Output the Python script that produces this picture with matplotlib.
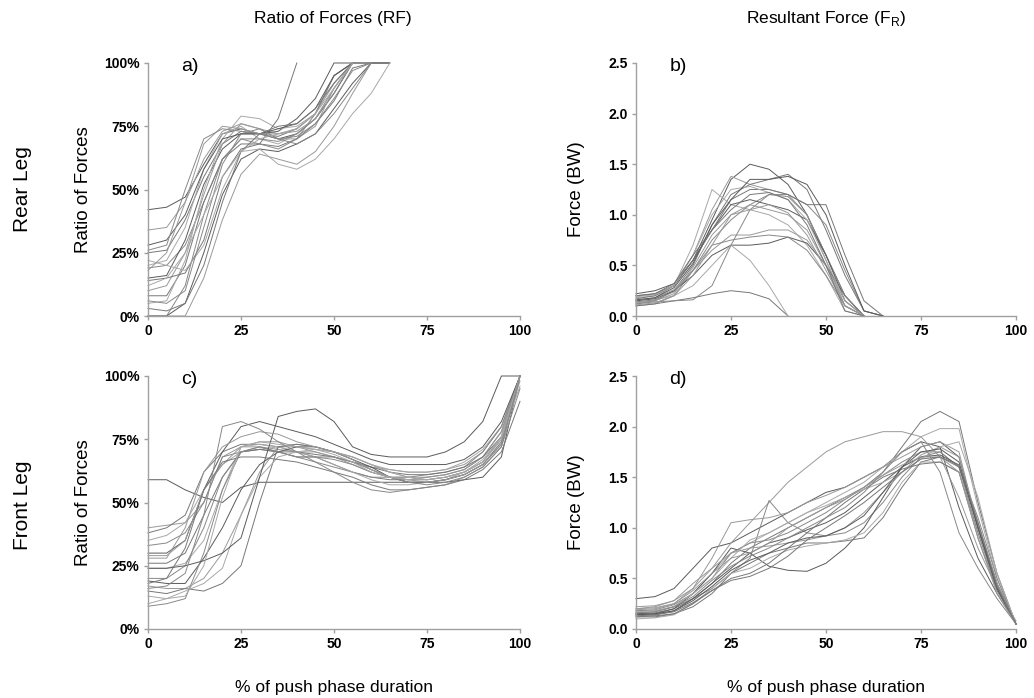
import matplotlib
matplotlib.use("Agg")
import matplotlib.pyplot as plt
import numpy as np

plt.rcParams['font.family'] = ['Liberation Sans', 'DejaVu Sans']

# % of push phase duration, sampled every 5 %
x_rear = list(range(0, 70, 5))
x_front = list(range(0, 105, 5))

# a) rear leg, ratio of forces (%)
rf_rear = [
    [42, 43, 47, 60, 72, 74, 72, 70, 72, 78, 88, 100, 100],
    [34, 35, 45, 62, 73, 76, 74, 72, 74, 80, 92, 100],
    [25, 26, 38, 55, 68, 73, 72, 71, 74, 80, 95, 100, 100],
    [20, 22, 35, 58, 72, 75, 70, 68, 72, 78, 90, 100],
    [19, 20, 28, 45, 62, 70, 70, 69, 72, 78, 88, 100, 100, 100],
    [15, 16, 30, 52, 66, 72, 72, 73, 78, 86, 100, 100],
    [10, 12, 25, 48, 68, 76, 74, 70, 70, 75, 90, 100],
    [8, 8, 20, 45, 62, 68, 68, 67, 70, 76, 85, 98, 100, 100],
    [5, 6, 22, 50, 70, 79, 78, 74, 75, 80, 92, 100],
    [0, 0, 12, 40, 62, 70, 68, 66, 70, 80, 95, 100],
    [0, 0, 5, 25, 48, 62, 66, 65, 68, 72, 82, 92, 100, 100],
    [0, 0, 0, 15, 38, 56, 64, 62, 60, 65, 75, 88, 100],
    [14, 15, 17, 30, 55, 66, 68, 78, 100],
    [22, 20, 18, 28, 50, 65, 66, 60, 58, 62, 70, 80, 88, 100],
    [6, 5, 10, 35, 60, 72, 74, 70, 68, 72, 80, 90, 100],
    [28, 30, 40, 58, 70, 72, 72, 74, 76, 82, 95, 100],
    [18, 25, 45, 68, 75, 74, 72, 72, 73, 78, 90, 100],
    [3, 2, 5, 20, 45, 65, 72, 75, 76, 82, 92, 100],
    [12, 15, 25, 40, 55, 65, 70, 72, 74, 80, 90, 100],
    [26, 28, 50, 70, 74, 73, 72, 70, 71, 76, 86, 97, 100],
]

# b) rear leg, resultant force (BW)
fr_rear = [
    [0.20, 0.22, 0.30, 0.55, 0.95, 1.35, 1.50, 1.45, 1.30, 1.00, 0.60, 0.20, 0.00],
    [0.15, 0.18, 0.30, 0.60, 1.05, 1.38, 1.30, 1.25, 1.20, 1.00, 0.55, 0.10, 0.00],
    [0.12, 0.15, 0.25, 0.50, 0.90, 1.20, 1.30, 1.35, 1.40, 1.25, 0.85, 0.40, 0.05, 0.00],
    [0.18, 0.20, 0.30, 0.70, 1.25, 1.10, 1.05, 1.00, 0.90, 0.70, 0.40, 0.05, 0.00],
    [0.10, 0.12, 0.20, 0.45, 0.75, 0.95, 1.10, 1.20, 1.20, 1.10, 0.90, 0.45, 0.05, 0.00],
    [0.15, 0.17, 0.25, 0.40, 0.60, 0.70, 0.70, 0.72, 0.78, 0.72, 0.50, 0.20, 0.00],
    [0.16, 0.18, 0.26, 0.45, 0.65, 0.80, 0.80, 0.85, 0.85, 0.75, 0.50, 0.15, 0.00],
    [0.10, 0.12, 0.15, 0.18, 0.22, 0.25, 0.23, 0.17, 0.00],
    [0.14, 0.16, 0.20, 0.30, 0.50, 0.70, 0.55, 0.30, 0.00],
    [0.12, 0.14, 0.15, 0.16, 0.30, 0.70, 1.05, 1.20, 1.18, 1.00, 0.60, 0.20, 0.00],
    [0.22, 0.25, 0.32, 0.55, 0.85, 1.10, 1.15, 1.10, 1.05, 0.95, 0.60, 0.15, 0.00],
    [0.13, 0.15, 0.22, 0.48, 0.80, 1.00, 1.05, 1.10, 1.02, 0.80, 0.45, 0.10, 0.00],
    [0.17, 0.20, 0.30, 0.55, 0.85, 1.15, 1.25, 1.25, 1.20, 1.10, 1.10, 0.60, 0.15, 0.00],
    [0.19, 0.21, 0.30, 0.60, 1.00, 1.25, 1.28, 1.22, 1.15, 0.95, 0.55, 0.15, 0.00],
    [0.14, 0.16, 0.24, 0.45, 0.70, 0.75, 0.78, 0.80, 0.78, 0.65, 0.40, 0.10, 0.00],
    [0.16, 0.18, 0.28, 0.52, 0.90, 1.15, 1.35, 1.35, 1.38, 1.30, 1.00, 0.50, 0.05, 0.00],
    [0.11, 0.13, 0.20, 0.40, 0.70, 1.00, 1.10, 1.05, 1.00, 0.85, 0.50, 0.10, 0.00],
    [0.20, 0.22, 0.32, 0.60, 0.85, 1.05, 1.20, 1.22, 1.15, 0.90, 0.50, 0.05, 0.00],
]

# c) front leg, ratio of forces (%)
rf_front = [
    [59, 59, 55, 52, 50, 56, 58, 58, 58, 58, 58, 58, 58, 58, 58, 58, 58, 59, 60, 68, 100],
    [40, 41, 42, 50, 68, 72, 72, 71, 70, 70, 68, 66, 64, 63, 62, 62, 63, 65, 70, 80, 100],
    [38, 40, 45, 62, 70, 73, 73, 72, 70, 68, 65, 62, 60, 59, 59, 60, 61, 63, 68, 78, 100],
    [35, 37, 42, 55, 65, 70, 71, 72, 72, 71, 70, 68, 65, 63, 62, 62, 63, 66, 71, 80, 100],
    [33, 34, 38, 50, 68, 70, 71, 70, 68, 66, 64, 62, 60, 60, 60, 61, 62, 64, 70, 80, 100],
    [30, 30, 35, 55, 70, 80, 82, 80, 78, 76, 73, 70, 67, 65, 65, 65, 65, 67, 72, 82, 100],
    [29, 29, 35, 55, 65, 72, 74, 74, 72, 70, 68, 65, 62, 60, 60, 60, 61, 63, 68, 78, 100],
    [26, 26, 30, 45, 60, 70, 71, 70, 70, 69, 68, 66, 64, 62, 61, 61, 62, 64, 68, 76, 100],
    [24, 24, 26, 35, 55, 72, 73, 72, 70, 68, 65, 62, 59, 57, 57, 58, 59, 62, 67, 76, 96],
    [20, 20, 25, 40, 60, 70, 72, 70, 68, 68, 67, 65, 62, 60, 59, 59, 60, 62, 66, 76, 100],
    [19, 18, 18, 28, 40, 55, 65, 70, 72, 72, 70, 67, 64, 60, 58, 58, 59, 61, 65, 73, 100],
    [17, 16, 16, 20, 30, 45, 62, 72, 73, 72, 70, 68, 65, 62, 60, 59, 60, 62, 66, 75, 98],
    [15, 14, 16, 15, 18, 25, 50, 72, 73, 72, 70, 67, 63, 60, 58, 58, 59, 61, 65, 74, 100],
    [10, 12, 15, 18, 24, 45, 60, 68, 70, 71, 70, 68, 65, 62, 60, 59, 60, 62, 66, 75, 100],
    [9, 10, 12, 30, 55, 70, 72, 70, 68, 68, 68, 66, 63, 60, 58, 57, 58, 60, 64, 72, 95],
    [24, 24, 25, 27, 30, 36, 60, 84, 86, 87, 82, 72, 69, 68, 68, 68, 70, 74, 82, 100, 100],
    [28, 28, 40, 62, 72, 76, 78, 77, 74, 72, 70, 67, 63, 60, 59, 58, 59, 61, 65, 73, 100],
    [18, 20, 32, 55, 66, 68, 68, 67, 66, 64, 62, 60, 57, 55, 55, 56, 57, 59, 63, 70, 90],
    [13, 12, 13, 25, 52, 72, 74, 73, 72, 71, 69, 66, 62, 60, 59, 59, 60, 62, 66, 76, 100],
    [16, 17, 22, 45, 80, 82, 79, 74, 70, 66, 62, 58, 55, 54, 55, 56, 57, 60, 64, 72, 100],
]

# d) front leg, resultant force (BW)
fr_front = [
    [0.30, 0.32, 0.40, 0.60, 0.80, 0.85, 0.95, 1.05, 1.15, 1.25, 1.35, 1.40, 1.50, 1.60, 1.75, 1.85, 1.80, 1.20, 0.70, 0.35, 0.05],
    [0.20, 0.22, 0.28, 0.40, 0.60, 0.85, 1.05, 1.25, 1.45, 1.60, 1.75, 1.85, 1.90, 1.95, 1.95, 1.90, 1.70, 1.30, 0.80, 0.40, 0.08],
    [0.15, 0.16, 0.20, 0.30, 0.45, 0.65, 0.80, 0.90, 1.00, 1.10, 1.20, 1.30, 1.40, 1.55, 1.80, 2.05, 2.15, 2.05, 1.25, 0.55, 0.05],
    [0.18, 0.18, 0.22, 0.35, 0.55, 0.75, 0.85, 0.95, 1.05, 1.15, 1.25, 1.35, 1.45, 1.60, 1.75, 1.90, 1.98, 1.98, 1.20, 0.50, 0.05],
    [0.16, 0.17, 0.22, 0.30, 0.40, 0.55, 0.70, 1.27, 1.05, 0.95, 0.92, 0.95, 1.05, 1.25, 1.50, 1.70, 1.75, 1.60, 1.10, 0.50, 0.05],
    [0.14, 0.15, 0.20, 0.35, 0.55, 0.80, 0.75, 0.62, 0.58, 0.57, 0.65, 0.80, 1.00, 1.30, 1.60, 1.80, 1.85, 1.70, 1.00, 0.45, 0.05],
    [0.20, 0.21, 0.25, 0.40, 0.70, 1.05, 1.08, 1.10, 1.15, 1.25, 1.32, 1.40, 1.50, 1.60, 1.70, 1.80, 1.85, 1.75, 1.00, 0.40, 0.05],
    [0.12, 0.13, 0.15, 0.22, 0.35, 0.55, 0.65, 0.75, 0.80, 0.85, 0.85, 0.87, 0.90, 1.10, 1.40, 1.65, 1.70, 1.60, 1.05, 0.45, 0.05],
    [0.10, 0.11, 0.14, 0.25, 0.40, 0.55, 0.60, 0.70, 0.78, 0.82, 0.85, 0.88, 0.95, 1.15, 1.45, 1.65, 1.65, 1.55, 0.95, 0.40, 0.05],
    [0.18, 0.19, 0.24, 0.35, 0.50, 0.75, 0.85, 0.88, 0.95, 1.05, 1.15, 1.28, 1.40, 1.52, 1.65, 1.75, 1.75, 1.60, 0.95, 0.40, 0.05],
    [0.15, 0.15, 0.18, 0.30, 0.45, 0.60, 0.75, 0.85, 0.90, 0.98, 1.05, 1.15, 1.30, 1.45, 1.60, 1.70, 1.72, 1.62, 1.00, 0.42, 0.05],
    [0.22, 0.23, 0.28, 0.45, 0.60, 0.75, 0.80, 0.82, 0.85, 0.88, 0.92, 1.00, 1.15, 1.35, 1.55, 1.72, 1.80, 1.70, 1.05, 0.45, 0.05],
    [0.12, 0.12, 0.15, 0.25, 0.38, 0.50, 0.55, 0.65, 0.80, 0.95, 1.10, 1.25, 1.38, 1.50, 1.58, 1.63, 1.65, 1.55, 0.90, 0.38, 0.05],
    [0.17, 0.18, 0.22, 0.35, 0.50, 0.70, 0.88, 0.95, 1.05, 1.15, 1.22, 1.30, 1.38, 1.45, 1.55, 1.68, 1.80, 1.85, 1.30, 0.55, 0.05],
    [0.16, 0.17, 0.22, 0.32, 0.48, 0.62, 0.72, 0.80, 0.90, 1.00, 1.10, 1.20, 1.35, 1.55, 1.75, 1.85, 1.55, 0.95, 0.60, 0.30, 0.05],
    [0.14, 0.14, 0.18, 0.28, 0.42, 0.58, 0.68, 0.75, 0.85, 0.90, 0.92, 1.00, 1.12, 1.35, 1.60, 1.75, 1.78, 1.65, 1.00, 0.40, 0.05],
    [0.19, 0.20, 0.25, 0.38, 0.55, 0.70, 0.75, 0.85, 1.00, 1.10, 1.20, 1.28, 1.40, 1.52, 1.62, 1.70, 1.70, 1.55, 0.90, 0.35, 0.05],
    [0.13, 0.14, 0.17, 0.26, 0.38, 0.48, 0.52, 0.60, 0.72, 0.88, 1.00, 1.12, 1.25, 1.40, 1.55, 1.68, 1.70, 1.62, 1.05, 0.42, 0.05],
]

grays = ['#5a5a5a', '#999999', '#777777', '#a8a8a8', '#888888']

W, H = 1034, 698
fig = plt.figure(figsize=(W / 100, H / 100), dpi=100)


def px_rect(x0, x1, ytop, ybot):
    return [x0 / W, 1 - ybot / H, (x1 - x0) / W, (ybot - ytop) / H]


ax_a = fig.add_axes(px_rect(148, 520, 63, 316))
ax_b = fig.add_axes(px_rect(636, 1016, 63, 316))
ax_c = fig.add_axes(px_rect(148, 520, 376, 629))
ax_d = fig.add_axes(px_rect(636, 1016, 376, 629))

panels = [
    (ax_a, x_rear, rf_rear, 'a)', True),
    (ax_b, x_rear, fr_rear, 'b)', False),
    (ax_c, x_front, rf_front, 'c)', True),
    (ax_d, x_front, fr_front, 'd)', False),
]

for ax, xs, series, tag, is_ratio in panels:
    for i, ys in enumerate(series):
        ax.plot(xs[:len(ys)], ys, color=grays[i % len(grays)], lw=0.7,
                solid_joinstyle='round', clip_on=False)
    ax.set_xlim(0, 100)
    ax.set_xticks([0, 25, 50, 75, 100])
    if is_ratio:
        ax.set_ylim(0, 100)
        ax.set_yticks([0, 25, 50, 75, 100])
        ax.set_yticklabels(['0%', '25%', '50%', '75%', '100%'])
        ax.set_ylabel('Ratio of Forces', fontsize=13.5)
        ax.yaxis.set_label_coords(-0.15, 0.5)
    else:
        ax.set_ylim(0, 2.5)
        ax.set_yticks([0, 0.5, 1.0, 1.5, 2.0, 2.5])
        ax.set_yticklabels(['%.1f' % v for v in [0, 0.5, 1.0, 1.5, 2.0, 2.5]])
        ax.set_ylabel('Force (BW)', fontsize=13.5)
        ax.yaxis.set_label_coords(-0.134, 0.5)
    for s in ['top', 'right']:
        ax.spines[s].set_visible(False)
    for s in ['left', 'bottom']:
        ax.spines[s].set_color('#a0a0a0')
        ax.spines[s].set_linewidth(1.0)
    ax.tick_params(colors='#a0a0a0', labelcolor='black', length=3, width=1,
                   labelsize=10, pad=3)
    for lab in ax.get_xticklabels() + ax.get_yticklabels():
        lab.set_fontweight('bold')
    ax.text(0.088, 0.985, tag, transform=ax.transAxes, fontsize=14,
            ha='left', va='center')

for ax in (ax_c, ax_d):
    ax.set_xlabel('% of push phase duration', fontsize=12.5)
    ax.xaxis.set_label_coords(0.5, -0.2)

fig.text(333 / W, 1 - 18 / H, 'Ratio of Forces (RF)', fontsize=12.5,
         ha='center', va='center')
fig.text(826 / W, 1 - 18 / H, 'Resultant Force (F$_\\mathregular{R}$)',
         fontsize=12.5, ha='center', va='center')
fig.text(23 / W, 1 - 189 / H, 'Rear Leg', fontsize=15, rotation=90,
         ha='center', va='center')
fig.text(23 / W, 1 - 505 / H, 'Front Leg', fontsize=15, rotation=90,
         ha='center', va='center')

fig.savefig('out.png', dpi=100)
